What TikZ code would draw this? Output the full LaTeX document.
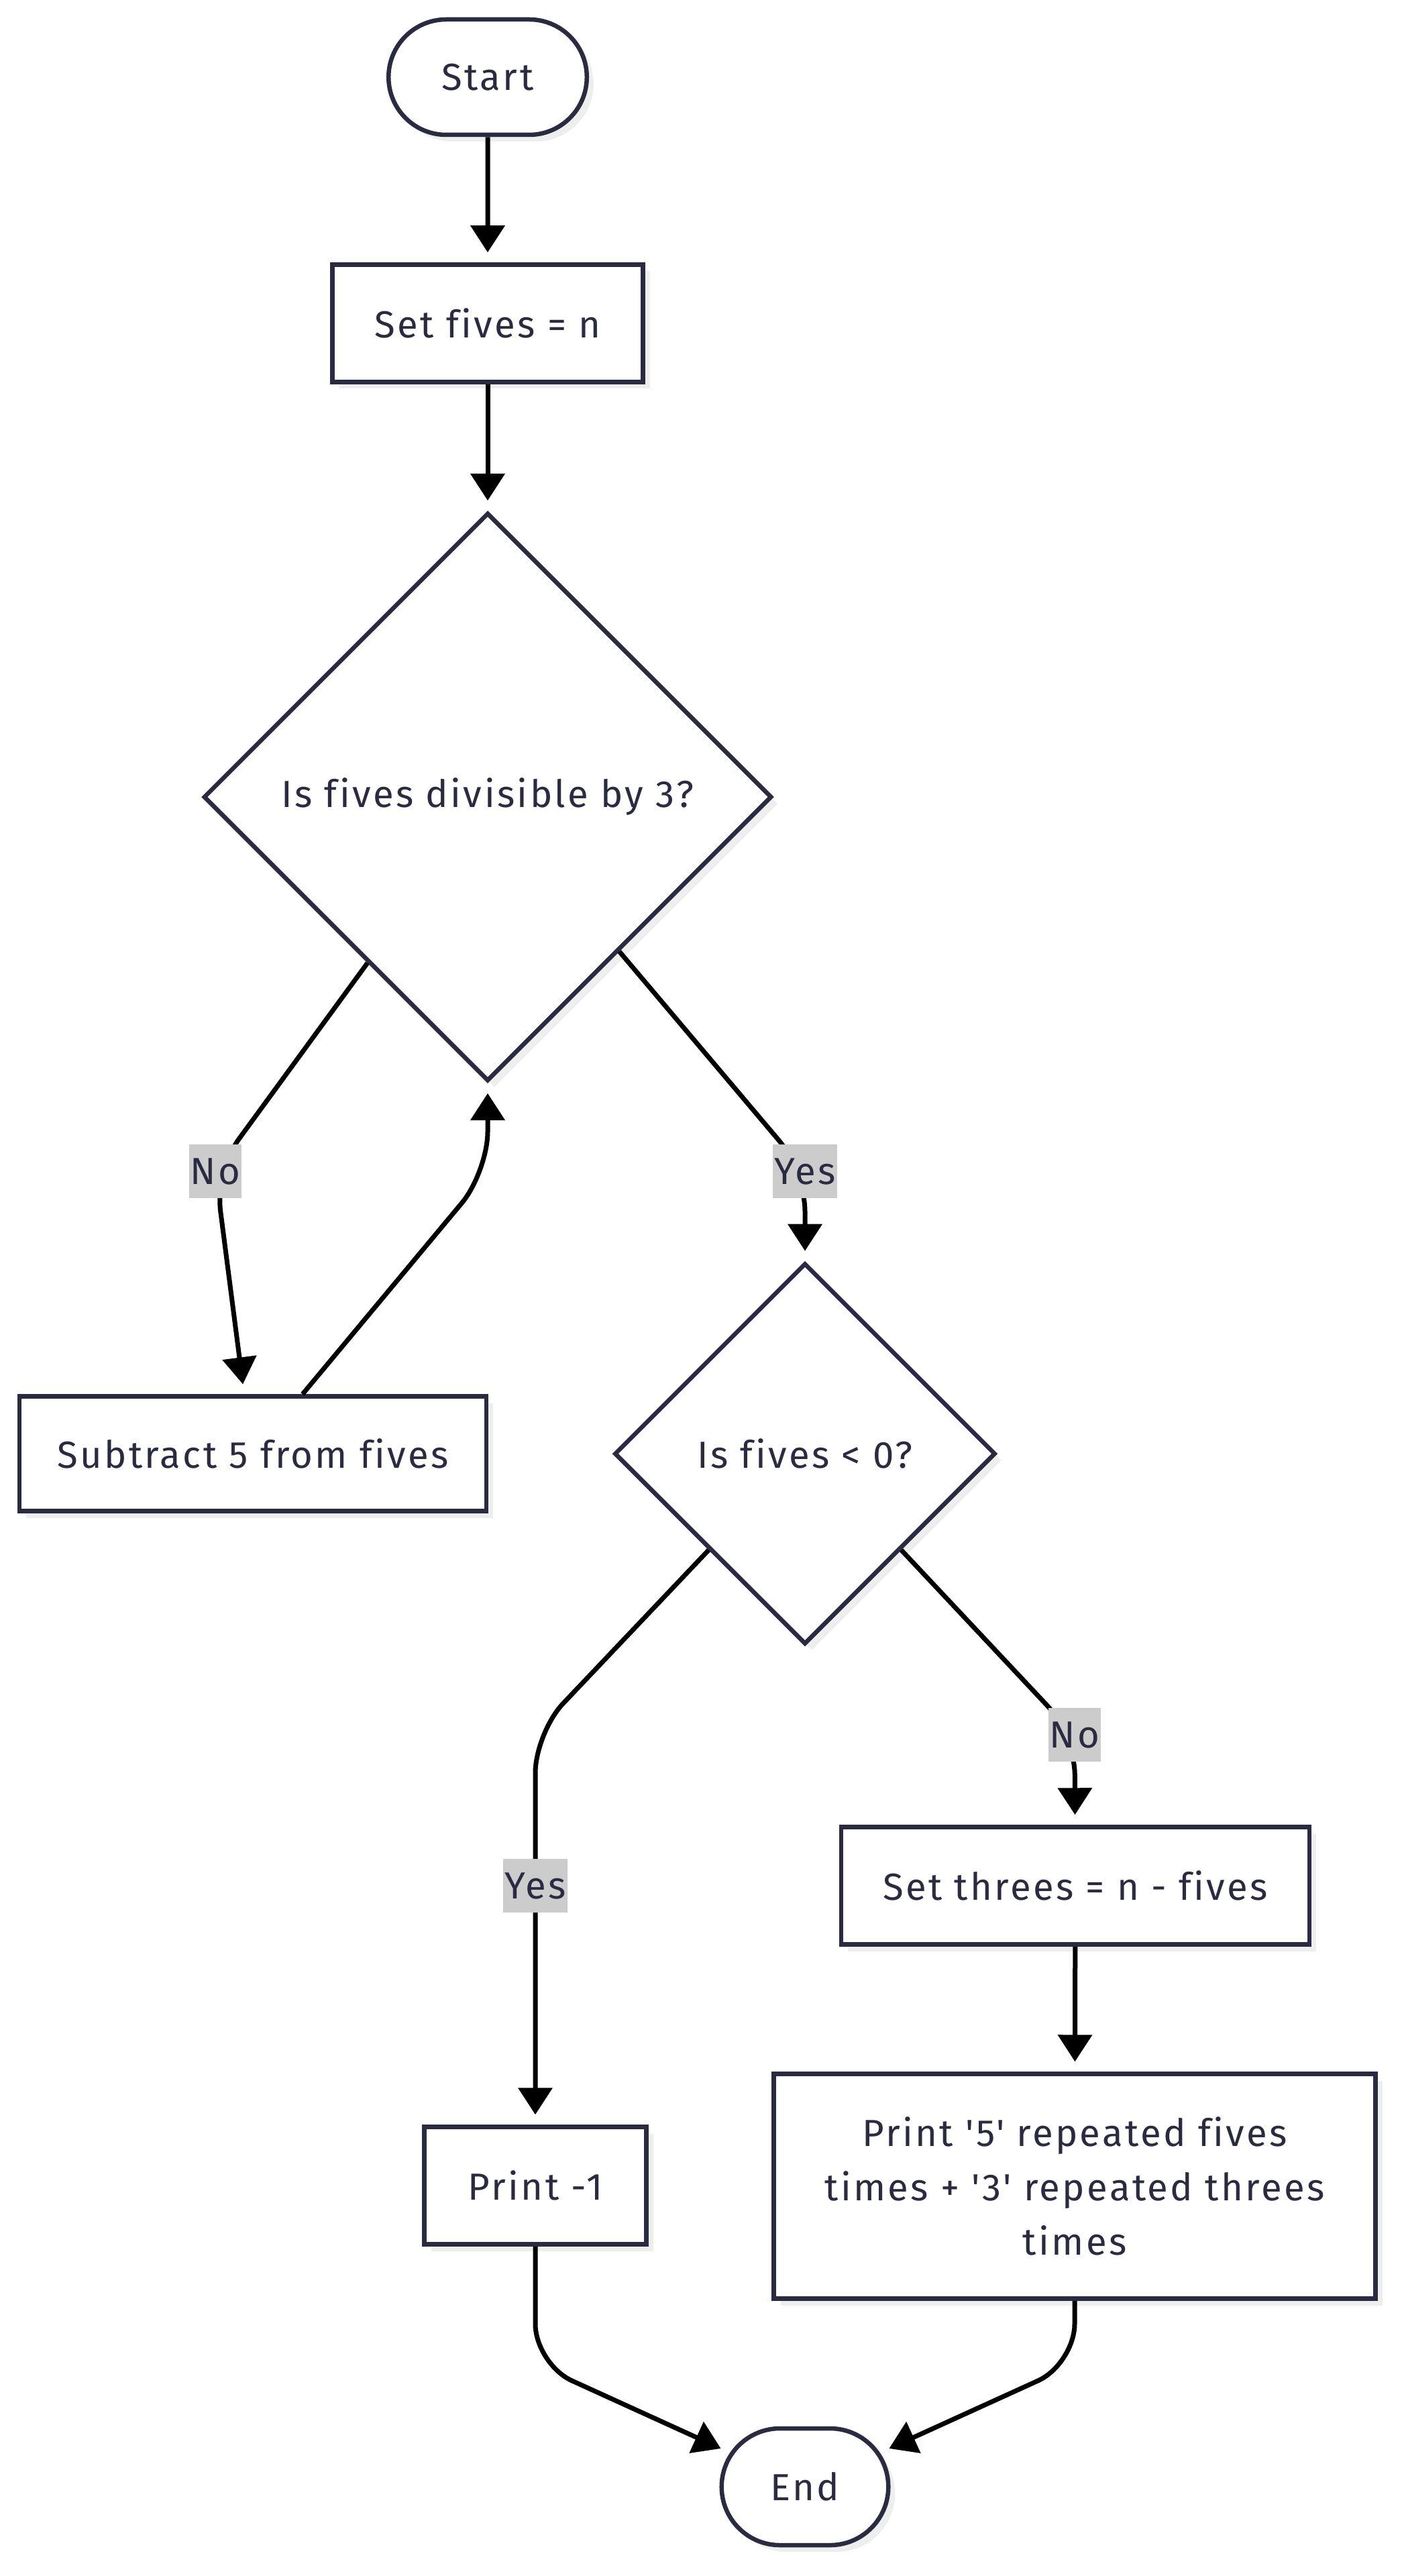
\documentclass[tikz,border=0pt]{standalone}
\usepackage{fontspec}
\setmainfont{Fira Sans}[Ligatures={TeXOff,NoCommon}, LetterSpace=6]
\definecolor{fcink}{HTML}{2A2A40}
\definecolor{fcline}{HTML}{000000}
\definecolor{fclabel}{HTML}{CCCCCC}
\definecolor{fcshade}{HTML}{EEEEEE}
\usetikzlibrary{positioning, arrows.meta, calc, shapes.geometric, shapes.misc, shadows}
\newcommand{\flowfont}{\fontsize{16}{23}\selectfont}

\begin{document}
\begin{tikzpicture}[
    box/.style={draw=fcink, line width=0.065cm, fill=white, text=fcink, font=\flowfont,
      drop shadow={shadow xshift=0.1cm, shadow yshift=-0.1cm, fill=fcshade, opacity=1}},
    proc/.style={box, rectangle, minimum height=1.75cm},
    term/.style={box, rounded rectangle, minimum height=1.72cm},
    decide/.style={box, diamond, aspect=1, inner sep=0pt},
    flow/.style={-{Triangle[length=0.4cm, width=0.5cm]}, fcline, line width=0.07cm,
      shorten >=0.15cm, rounded corners=0.6cm},
    lbl/.style={fill=fclabel, text=fcink, font=\flowfont, inner xsep=0.02cm, inner ysep=0pt, minimum height=0.8cm}
  ]
    \useasboundingbox (0,0) rectangle (20.89,-38.40);
    \fill[white] (0,0) rectangle (20.89,-38.40);

    % nodes
    \node[term, minimum width=3.19cm] (start) at (7.27,-1.15) {Start};
    \node[proc, minimum width=4.63cm] (setfives) at (7.27,-4.82) {Set fives = n};
    \node[decide, minimum width=8.47cm, minimum height=8.47cm] (divthree) at (7.27,-11.88) {Is fives divisible by 3?};
    \node[proc, minimum width=6.96cm, minimum height=1.71cm] (subtract) at (3.77,-21.67) {Subtract 5 from fives};
    \node[decide, minimum width=5.68cm, minimum height=5.68cm] (negcheck) at (12.00,-21.67) {Is fives < 0?};
    \node[proc, minimum width=6.98cm] (setthrees) at (16.03,-28.11) {Set threes = n - fives};
    \node[proc, minimum width=3.31cm] (printneg) at (7.98,-32.58) {Print -1};
    \node[proc, minimum width=8.97cm, minimum height=3.35cm, align=center] (printfives) at (16.02,-32.59)
      {Print '5' repeated fives\\times + '3' repeated threes\\times};
    \node[term, minimum width=2.72cm, minimum height=1.74cm] (finish) at (12.00,-37.07) {End};

    % bends
    \coordinate (nobend) at (3.21,-17.46);
    \coordinate (yesbend) at (12.00,-17.46);
    \coordinate (loopbend) at (7.27,-17.47);
    \coordinate (negbend) at (7.98,-25.83);
    \coordinate (posbend) at (16.02,-25.86);
    \coordinate (leftjoin) at (7.98,-35.24);
    \coordinate (rightjoin) at (16.02,-35.24);

    % connectors
    \draw[flow] (start) -- (setfives);
    \draw[flow] (setfives) -- (divthree);
    \draw[flow] ($(divthree.west)!0.58!(divthree.south)$) -- (nobend) -- ($(subtract.north)+(-0.13,0)$);
    \draw[flow] ([xshift=0.74cm]subtract.north) -- (loopbend) -- (divthree.south);
    \draw[flow] ($(divthree.east)!0.54!(divthree.south)$) -- (yesbend) -- (negcheck);
    \draw[flow] ($(negcheck.west)!0.5!(negcheck.south)$) -- (negbend) -- (printneg);
    \draw[flow] ($(negcheck.east)!0.5!(negcheck.south)$) -- (posbend) -- (setthrees);
    \draw[flow] (setthrees) -- (printfives);
    \draw[flow] (printneg) -- (leftjoin) -- (finish);
    \draw[flow] (printfives) -- (rightjoin) -- (finish);

    % edge labels
    \node[lbl] (nolbl) at (nobend) {No};
    \node[lbl] (yeslbl) at (yesbend) {Yes};
    \node[lbl] (neglbl) at (7.98,-28.11) {Yes};
    \node[lbl] (poslbl) at (posbend) {No};
  \end{tikzpicture}
\end{document}
